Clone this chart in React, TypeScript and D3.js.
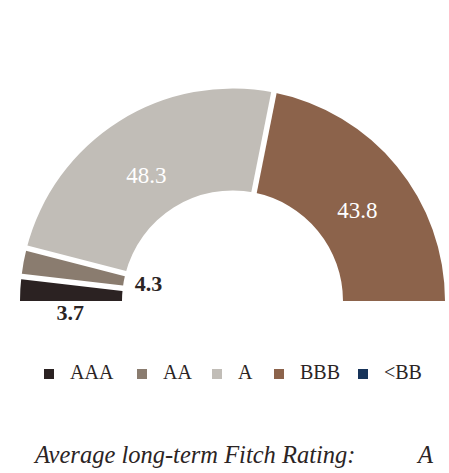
import React from "react";
import * as d3 from "d3";

const categories = ["AAA", "AA", "A", "BBB", "<BB"];
const values = [3.7, 4.3, 48.3, 43.8, 0];
const labels = ["3.7", "4.3", "48.3", "43.8", ""];
const colors = ["#2b2222", "#8a7c6f", "#c1bdb7", "#8c634b", "#17345a"];
const footerLabel = "Average long-term Fitch Rating:";
const footerValue = "A";

const W = 449;
const H = 473;
const cx = 232.5;
const cy = 301;
const rOuter = 212.5;
const rInner = 110.5;
const gap = 5.5;

export default function App() {
  const pie = d3
    .pie<number>()
    .sort(null)
    .value((d) => d)
    .startAngle(-Math.PI / 2)
    .endAngle(Math.PI / 2);
  const arcs = pie(values);
  const arc = d3
    .arc<d3.PieArcDatum<number>>()
    .innerRadius(rInner)
    .outerRadius(rOuter);

  const textColor = "#2b2424";
  const font = "Liberation Serif, DejaVu Serif, serif";

  const legendX = [44, 137, 212, 274, 358];
  const visible = arcs.filter((a) => a.value > 0);
  const boundaries = visible.slice(1).map((a) => a.startAngle);

  return (
    <svg width={W} height={H} style={{ position: "absolute", left: 0, top: 0, background: "#fff" }}>
      <g transform={`translate(${cx},${cy})`}>
        {arcs.map((a, i) =>
          a.value > 0 ? <path key={i} d={arc(a) || ""} fill={colors[i]} /> : null
        )}
        {boundaries.map((ang, i) => (
          <line key={"b" + i}
            x1={Math.sin(ang) * (rInner - 2)} y1={-Math.cos(ang) * (rInner - 2)}
            x2={Math.sin(ang) * (rOuter + 2)} y2={-Math.cos(ang) * (rOuter + 2)}
            stroke="#fff" strokeWidth={gap} />
        ))}
        {arcs.map((a, i) => {
          if (!labels[i]) return null;
          if (a.value > 20) {
            const [x, y] = arc.centroid(a);
            return (
              <text key={"l" + i} x={x} y={y + 19} textAnchor="middle" fill="#fff"
                style={{ fontFamily: font }} fontSize={23}>
                {labels[i]}
              </text>
            );
          }
          const mid = (a.startAngle + a.endAngle) / 2;
          if (i === 1) {
            const x = Math.sin(mid) * rInner;
            const y = -Math.cos(mid) * rInner;
            return (
              <text key={"l" + i} x={x + 11} y={y + 10} textAnchor="start" fill={textColor}
                style={{ fontFamily: font }} fontSize={22} fontWeight="bold">
                {labels[i]}
              </text>
            );
          }
          const x = Math.sin(mid) * ((rInner + rOuter) / 2);
          return (
            <text key={"l" + i} x={x - 1} y={19} textAnchor="middle" fill={textColor}
              style={{ fontFamily: font }} fontSize={22} fontWeight="bold">
              {labels[i]}
            </text>
          );
        })}
      </g>
      <g>
        {categories.map((c, i) => (
          <g key={c} transform={`translate(${legendX[i]},369)`}>
            <rect width={10} height={10} fill={colors[i]} />
            <text x={26} y={10} fill={textColor} style={{ fontFamily: font }} fontSize={20}>
              {c}
            </text>
          </g>
        ))}
      </g>
      <text x={35} y={463} fill={textColor} style={{ fontFamily: font }} fontSize={24.5} fontStyle="italic">
        {footerLabel}
      </text>
      <text x={418} y={463} fill={textColor} style={{ fontFamily: font }} fontSize={24.5} fontStyle="italic">
        {footerValue}
      </text>
    </svg>
  );
}
